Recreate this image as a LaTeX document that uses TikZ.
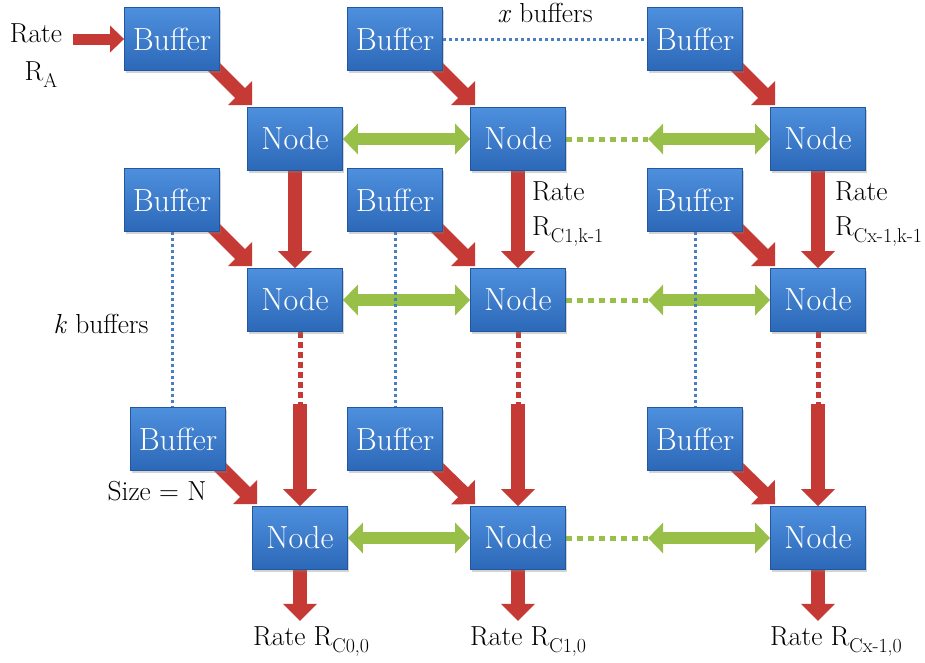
\documentclass[tikz,border=0pt]{standalone}
\usepackage{fontspec}
\usetikzlibrary{arrows.meta,calc,shadows,backgrounds}
\definecolor{boxtop}{RGB}{78,144,222}
\definecolor{boxbot}{RGB}{44,104,184}
\definecolor{boxedge}{RGB}{34,86,158}
\definecolor{arrred}{RGB}{198,58,54}
\definecolor{arrgreen}{RGB}{152,192,72}
\definecolor{dotblue}{RGB}{74,126,196}
\newcommand\sbs[1]{\raisebox{-7pt}{\fontsize{20}{20}\selectfont #1}}
\begin{document}
\begin{tikzpicture}[x=1pt,y=-1pt,
 box/.style={rectangle, minimum width=95pt, minimum height=63pt, inner sep=0pt,
   top color=boxtop, bottom color=boxbot, draw=boxedge, line width=0.8pt,
   text=white, font=\fontsize{32}{32}\selectfont,
   drop shadow={shadow xshift=1.5pt, shadow yshift=-2pt, opacity=.35}},
 lbl/.style={font=\fontsize{27.5}{27.5}\selectfont, inner sep=0pt},
 redarrow/.style={draw=arrred, line width=14pt, -{Triangle[width=33pt,length=17pt]}},
 smallred/.style={draw=arrred, line width=11pt, -{Triangle[width=26pt,length=14pt]}},
 greenarrow/.style={draw=arrgreen, line width=12pt,
   {Triangle[width=30pt,length=15pt]}-{Triangle[width=30pt,length=15pt]}},
 reddots/.style={draw=arrred, line width=5pt, dash pattern=on 6pt off 4pt},
 greendots/.style={draw=arrgreen, line width=5pt, dash pattern=on 6pt off 5pt},
 bluedots/.style={draw=dotblue, line width=3pt, dash pattern=on 3pt off 3pt},
]
\useasboundingbox (0,0) rectangle (925,662);
% boxes
\node[box] (bA1) at (172,39) {Buffer};
\node[box] (bB1) at (395,39) {Buffer};
\node[box] (bC1) at (695,39) {Buffer};
\node[box] (nA1) at (295,139) {Node};
\node[box] (nB1) at (518,139) {Node};
\node[box] (nC1) at (818,139) {Node};
\node[box] (bA2) at (172,200) {Buffer};
\node[box] (bB2) at (395,200) {Buffer};
\node[box] (bC2) at (695,200) {Buffer};
\node[box] (nA2) at (295,300) {Node};
\node[box] (nB2) at (518,300) {Node};
\node[box] (nC2) at (818,300) {Node};
\node[box] (bA3) at (178,439) {Buffer};
\node[box] (bB3) at (395,439) {Buffer};
\node[box] (bC3) at (695,439) {Buffer};
\node[box] (nA3) at (300,538) {Node};
\node[box] (nB3) at (518,538) {Node};
\node[box] (nC3) at (818,538) {Node};
% free ends
\coordinate (rA) at (73,39);
\foreach \c in {A,B,C}{
  \coordinate (m\c) at ($(n\c3.north)+(0,-102)$);
  \coordinate (o\c) at ($(n\c3.south)+(0,51)$);
}
\foreach \r in {1,2,3}{
  \coordinate (g\r) at ($(nC\r.west)+(-122,0)$);
}
\begin{scope}[on background layer]
  \draw[smallred] (rA) -- (bA1.west);
  \foreach \c in {A,B,C}{
    \foreach \r in {1,2,3}{
      \draw[redarrow] ($(b\c\r.south east)+(-8,-6)$) -- ($(n\c\r.north west)+(5,-2)$);
    }
    \draw[redarrow] (n\c1.south) -- (n\c2.north);
    \draw[reddots] (n\c3.north |- n\c2.south) -- (m\c);
    \draw[redarrow] (m\c) -- (n\c3.north);
    \draw[redarrow] (n\c3.south) -- (o\c);
  }
  \foreach \r in {1,2,3}{
    \draw[greenarrow] (nA\r.east) -- (nB\r.west);
    \draw[greendots] (nB\r.east) -- (g\r);
    \draw[greenarrow] (g\r) -- (nC\r.west);
  }
  \draw[bluedots] (bB1.east) -- (bC1.west);
  \foreach \c in {A,B,C}{
    \draw[bluedots] (b\c2.south) -- (b\c2.south |- b\c3.north);
  }
\end{scope}
% labels
\node[lbl, anchor=base] (t1) at (36,42) {Rate};
\node[lbl, anchor=base] (t2) at (41,80) {R\sbs{A}};
\node[lbl, anchor=base] (t3) at (545,22) {\textit{x} buffers};
\node[lbl, anchor=base] (t4) at (101,333) {\textit{k} buffers};
\node[lbl, anchor=base west] (t5) at (532,200) {Rate};
\node[lbl, anchor=base west] (t6) at (532,235) {R\sbs{C1,k-1}};
\node[lbl, anchor=base west] (t7) at (835,200) {Rate};
\node[lbl, anchor=base west] (t8) at (835,235) {R\sbs{Cx-1,k-1}};
\node[lbl, anchor=base] (t9) at (157,500) {Size = N};
\node[lbl, anchor=base west] (t10) at (253,645) {Rate R\sbs{C0,0}};
\node[lbl, anchor=base west] (t11) at (470,645) {Rate R\sbs{C1,0}};
\node[lbl, anchor=base west] (t12) at (770,645) {Rate R\sbs{Cx-1,0}};
\end{tikzpicture}
\end{document}
